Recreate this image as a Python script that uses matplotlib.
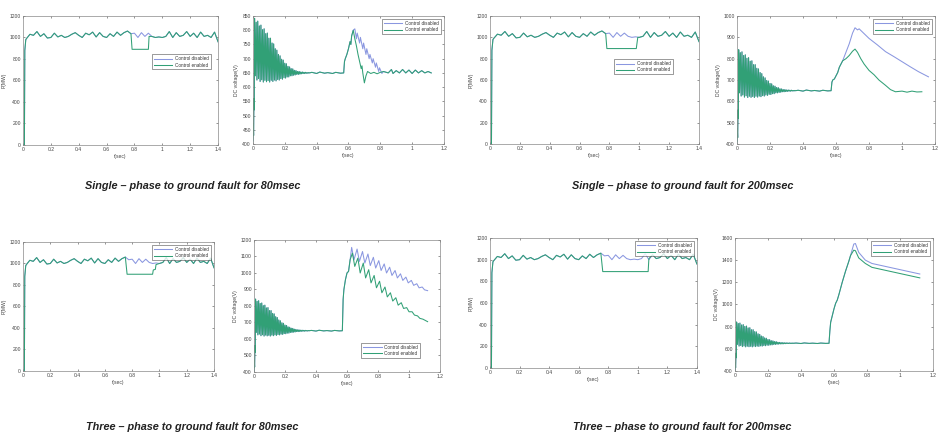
import matplotlib
matplotlib.use('Agg')
import matplotlib.pyplot as plt
import numpy as np

plt.rcParams['font.family'] = ['Liberation Sans', 'DejaVu Sans']

# ------------------------------------------------------------------ DATA
# Active power P(MW) (shared ripple, sampled every 0.025 s from 0.025 to 1.4 s)
p_start_t = [0.0, 0.010, 0.013, 0.020]
p_start_v = [0, 0, 880, 980]
p_ripple = [990, 1030, 1020, 1055, 1010, 1035, 995, 1000, 1040, 1005,
            1020, 1000, 1010, 1030, 1045, 1020, 1000, 1040, 1025, 1050,
            1005, 1045, 1010, 1000, 1035, 1010, 1050, 1020, 1045, 1060,
            1035, 1040, 1000, 1045, 1010, 1040, 1010, 1000, 1005, 1000,
            1010, 1055, 1000, 1045, 1010, 1020, 1055, 1010, 1040, 1000,
            1050, 1010, 1020, 1000, 1050, 960]
# fault with control enabled: start, end, reduced level, recovery points
p_fault_start = [0.775, 0.775, 0.755, 0.755]
p_fault_end = [0.900, 0.980, 0.950, 1.070]
p_fault_level = [890, 895, 900, 890]
p_recover_t = [[0.905], [0.99], [0.955, 0.97, 0.975, 1.0], [1.075]]
p_recover_v = [[1010], [1000], [940, 945, 990, 1000], [1010]]

# DC voltage: start-up transient (shared)
dc_start_t = [0.0, 0.002, 0.004, 0.006, 0.008]
dc_start_v = [410, 470, 430, 560, 520]
osc_hi = [842, 828, 832, 815, 818, 802, 805, 788, 790, 772, 772, 755, 752, 735,
          730, 715, 710, 698, 695, 684, 682, 673, 671, 665, 664, 659, 658, 655,
          655, 653, 653, 652, 652, 651, 651]
osc_lo = [640, 625, 630, 620, 626, 618, 624, 619, 623, 618, 624, 620, 625, 622,
          627, 625, 630, 628, 633, 632, 636, 636, 640, 640, 642, 643, 645, 645,
          646, 647, 648, 648, 649, 649, 650]
steady_t = [0.37, 0.40, 0.42, 0.45, 0.47, 0.50, 0.52, 0.55, 0.57]
steady_v = [652, 648, 653, 649, 651, 648, 652, 649, 650]

# Single-phase 80 ms
s80_rise_t = [0.575, 0.58, 0.59, 0.60, 0.61, 0.615, 0.62, 0.63]
s80_rise_v = [690, 700, 715, 735, 760, 750, 780, 800]
s80_dis_t = [0.64, 0.65, 0.655, 0.67, 0.675, 0.69, 0.695, 0.71, 0.715, 0.73,
             0.735, 0.75, 0.755, 0.77, 0.775, 0.79, 0.795, 0.81, 0.82]
s80_dis_v = [805, 770, 790, 755, 775, 735, 755, 715, 735, 700,
             715, 685, 700, 670, 685, 655, 668, 648, 655]
s80_en_t = [0.64, 0.65, 0.66, 0.67, 0.68, 0.685, 0.69, 0.70, 0.71, 0.72,
            0.74, 0.76, 0.78, 0.80, 0.82]
s80_en_v = [770, 745, 715, 690, 665, 675, 650, 615, 640, 655,
            648, 652, 647, 652, 655]
s80_tail_t = [0.85, 0.87, 0.88, 0.90, 0.92, 0.94, 0.96, 0.98, 1.0, 1.02,
              1.04, 1.06, 1.08, 1.10, 1.12]
s80_tail_v = [650, 662, 648, 658, 650, 662, 650, 660, 648, 660,
              650, 658, 650, 655, 650]

# Single-phase 200 ms
s200_rise_t = [0.575, 0.58, 0.59, 0.60, 0.61, 0.62, 0.63, 0.64]
s200_rise_v = [690, 700, 705, 720, 735, 760, 775, 790]
s200_dis_t = [0.66, 0.68, 0.70, 0.715, 0.73, 0.74, 0.76, 0.78, 0.80, 0.85,
              0.90, 0.95, 1.0, 1.05, 1.10, 1.16]
s200_dis_v = [830, 870, 920, 945, 935, 940, 925, 910, 895, 865,
              833, 810, 786, 762, 739, 715]
s200_en_t = [0.66, 0.68, 0.70, 0.715, 0.73, 0.75, 0.77, 0.80, 0.83, 0.86,
             0.90, 0.93, 0.96, 1.0, 1.03, 1.06, 1.09, 1.12]
s200_en_v = [800, 815, 835, 845, 830, 800, 775, 745, 725, 700,
             675, 655, 645, 648, 643, 648, 644, 645]

# Three-phase 80 ms
t80_rise_t = [0.57, 0.575, 0.58, 0.59, 0.60, 0.61, 0.62]
t80_rise_v = [650, 840, 900, 960, 1000, 1010, 1080]
t80_dis_t = [0.63, 0.645, 0.665, 0.68, 0.70, 0.715, 0.735, 0.75, 0.77, 0.785,
             0.805, 0.82, 0.84, 0.855, 0.875, 0.89, 0.91, 0.925, 0.945, 0.96,
             0.98, 0.995, 1.015, 1.03, 1.05, 1.065, 1.085, 1.10, 1.12]
t80_dis_v = [1155, 1080, 1145, 1070, 1130, 1060, 1115, 1045, 1095, 1030,
             1075, 1015, 1055, 1000, 1035, 985, 1015, 970, 995, 955,
             975, 940, 955, 925, 935, 910, 915, 898, 893]
t80_en_t = [0.635, 0.65, 0.67, 0.685, 0.705, 0.72, 0.74, 0.755, 0.775, 0.79,
            0.81, 0.825, 0.845, 0.86, 0.88, 0.895, 0.915, 0.93, 0.95, 0.965,
            0.985, 1.0, 1.02, 1.035, 1.055, 1.07, 1.09, 1.12]
t80_en_v = [1120, 1040, 1090, 1000, 1060, 970, 1020, 940, 985, 910,
            950, 880, 915, 855, 880, 830, 850, 805, 820, 785,
            790, 765, 765, 745, 740, 725, 720, 705]

# Three-phase 200 ms
t200_rise_t = [0.57, 0.575, 0.58, 0.59, 0.60, 0.61, 0.62, 0.63, 0.65, 0.67, 0.69, 0.70]
t200_rise_v = [650, 760, 840, 900, 960, 1010, 1040, 1090, 1200, 1300, 1390, 1440]
t200_dis_t = [0.72, 0.73, 0.75, 0.79, 0.83, 1.12]
t200_dis_v = [1545, 1550, 1470, 1400, 1370, 1275]
t200_en_t = [0.72, 0.73, 0.75, 0.79, 0.83, 1.12]
t200_en_v = [1490, 1485, 1420, 1370, 1335, 1240]

captions = ["Single \u2013 phase to ground fault for 80msec",
            "Single \u2013 phase to ground fault for 200msec",
            "Three \u2013 phase to ground fault for 80msec",
            "Three \u2013 phase to ground fault for 200msec"]
legend_labels = ["Control disabled", "Control enabled"]

# ------------------------------------------------------------------ STYLE
C_DIS = '#8a97e0'
C_EN = '#31a076'
LW = 0.75
FS = 3.6

fig = plt.figure(figsize=(9.39, 4.38), dpi=100)


def style(ax, xmax, xticks, ylim, yticks, ylabel):
    ax.set_xlim(0, xmax)
    ax.set_ylim(*ylim)
    ax.set_xticks(xticks)
    ax.set_xticklabels(['%g' % v for v in xticks])
    ax.set_yticks(yticks)
    ax.set_yticklabels(['%g' % v for v in yticks])
    ax.tick_params(direction='in', length=1.5, width=0.4, labelsize=FS,
                   colors='#444444', top=True, right=True, pad=1.5)
    for s in ax.spines.values():
        s.set_color('#888888')
        s.set_linewidth(0.5)
    ax.set_xlabel('t(sec)', fontsize=FS, color='#444444', labelpad=1.5)
    ax.set_ylabel(ylabel, fontsize=FS, color='#444444', labelpad=2)


def legend(ax, **kw):
    lg = ax.legend(legend_labels, fontsize=FS - 0.3, frameon=True, fancybox=False,
                   handlelength=4, borderpad=0.4, labelspacing=0.3,
                   handletextpad=0.6, **kw)
    lg.get_frame().set_edgecolor('#222222')
    lg.get_frame().set_linewidth(0.4)
    for t in lg.get_texts():
        t.set_color('#333333')


# ---- Power panels
p_t = list(np.round(np.linspace(0.025, 1.4, len(p_ripple)), 4))
p_rects = [[0.0245, 0.669, 0.2077, 0.2945], [0.5218, 0.6712, 0.2226, 0.2922],
           [0.0245, 0.153, 0.2034, 0.2945], [0.5218, 0.1598, 0.2204, 0.2968]]
p_legend = [dict(loc='upper right', bbox_to_anchor=(0.975, 0.72)),
            dict(loc='upper right', bbox_to_anchor=(0.885, 0.68)),
            dict(loc='upper right', bbox_to_anchor=(0.995, 0.995)),
            dict(loc='upper right', bbox_to_anchor=(0.995, 0.995))]
for i in range(4):
    ax = fig.add_axes(p_rects[i])
    dis_t = p_start_t + p_t
    dis_v = p_start_v + p_ripple
    fs, fe, lv = p_fault_start[i], p_fault_end[i], p_fault_level[i]
    en_t = p_start_t + [t for t in p_t if t <= fs] + [fs + 0.008, fe] + p_recover_t[i] + \
        [t for t in p_t if t > p_recover_t[i][-1]]
    en_v = p_start_v + [v for t, v in zip(p_t, p_ripple) if t <= fs] + [lv, lv] + p_recover_v[i] + \
        [v for t, v in zip(p_t, p_ripple) if t > p_recover_t[i][-1]]
    ax.plot(dis_t, dis_v, color=C_DIS, lw=LW)
    ax.plot(en_t, en_v, color=C_EN, lw=LW)
    style(ax, 1.4, [0, 0.2, 0.4, 0.6, 0.8, 1.0, 1.2, 1.4], (0, 1200),
          [0, 200, 400, 600, 800, 1000, 1200], 'P(MW)')
    legend(ax, **p_legend[i])

# ---- DC voltage panels
osc_t = []
osc_v = []
for k in range(len(osc_hi)):
    osc_t += [0.01 + 0.01 * k, 0.015 + 0.01 * k]
    osc_v += [osc_hi[k], osc_lo[k]]
base_t = dc_start_t + osc_t + steady_t
base_v = dc_start_v + osc_v + steady_v

dc_cfg = [
    dict(rect=[0.2694, 0.6712, 0.2034, 0.2922], ylim=(400, 850),
         yt=[400, 450, 500, 550, 600, 650, 700, 750, 800, 850],
         rise=(s80_rise_t, s80_rise_v), dis=(s80_dis_t + s80_tail_t, s80_dis_v + s80_tail_v),
         en=(s80_en_t + s80_tail_t, s80_en_v + s80_tail_v),
         leg=dict(loc='upper right', bbox_to_anchor=(0.995, 0.995))),
    dict(rect=[0.7849, 0.6712, 0.2109, 0.2922], ylim=(400, 1000),
         yt=[400, 500, 600, 700, 800, 900, 1000],
         rise=(s200_rise_t, s200_rise_v), dis=(s200_dis_t, s200_dis_v),
         en=(s200_en_t, s200_en_v),
         leg=dict(loc='upper right', bbox_to_anchor=(0.995, 0.995))),
    dict(rect=[0.2705, 0.1507, 0.1981, 0.3014], ylim=(400, 1200),
         yt=[400, 500, 600, 700, 800, 900, 1000, 1100, 1200],
         rise=(t80_rise_t, t80_rise_v), dis=(t80_dis_t, t80_dis_v),
         en=(t80_en_t, t80_en_v),
         leg=dict(loc='lower right', bbox_to_anchor=(0.905, 0.09))),
    dict(rect=[0.7827, 0.1530, 0.2109, 0.3037], ylim=(400, 1600),
         yt=[400, 600, 800, 1000, 1200, 1400, 1600],
         rise=(t200_rise_t, t200_rise_v), dis=(t200_dis_t, t200_dis_v),
         en=(t200_en_t, t200_en_v),
         leg=dict(loc='upper right', bbox_to_anchor=(0.995, 0.995))),
]
for c in dc_cfg:
    ax = fig.add_axes(c['rect'])
    ax.plot(base_t + c['rise'][0] + c['dis'][0], base_v + c['rise'][1] + c['dis'][1],
            color=C_DIS, lw=LW)
    ax.plot(base_t + c['rise'][0] + c['en'][0], base_v + c['rise'][1] + c['en'][1],
            color=C_EN, lw=LW)
    style(ax, 1.2, [0, 0.2, 0.4, 0.6, 0.8, 1.0, 1.2], c['ylim'], c['yt'], 'DC voltage(V)')
    legend(ax, **c['leg'])

# ---- captions
cap_pos = [(0.205, 0.575), (0.727, 0.575), (0.205, 0.025), (0.727, 0.025)]
for txt, (x, y) in zip(captions, cap_pos):
    fig.text(x, y, txt, ha='center', va='center', fontsize=7.8,
             fontweight='bold', fontstyle='italic', color='#222222',
             family=['Liberation Sans Narrow', 'Liberation Sans', 'DejaVu Sans'])

fig.savefig('out.png', dpi=100)
